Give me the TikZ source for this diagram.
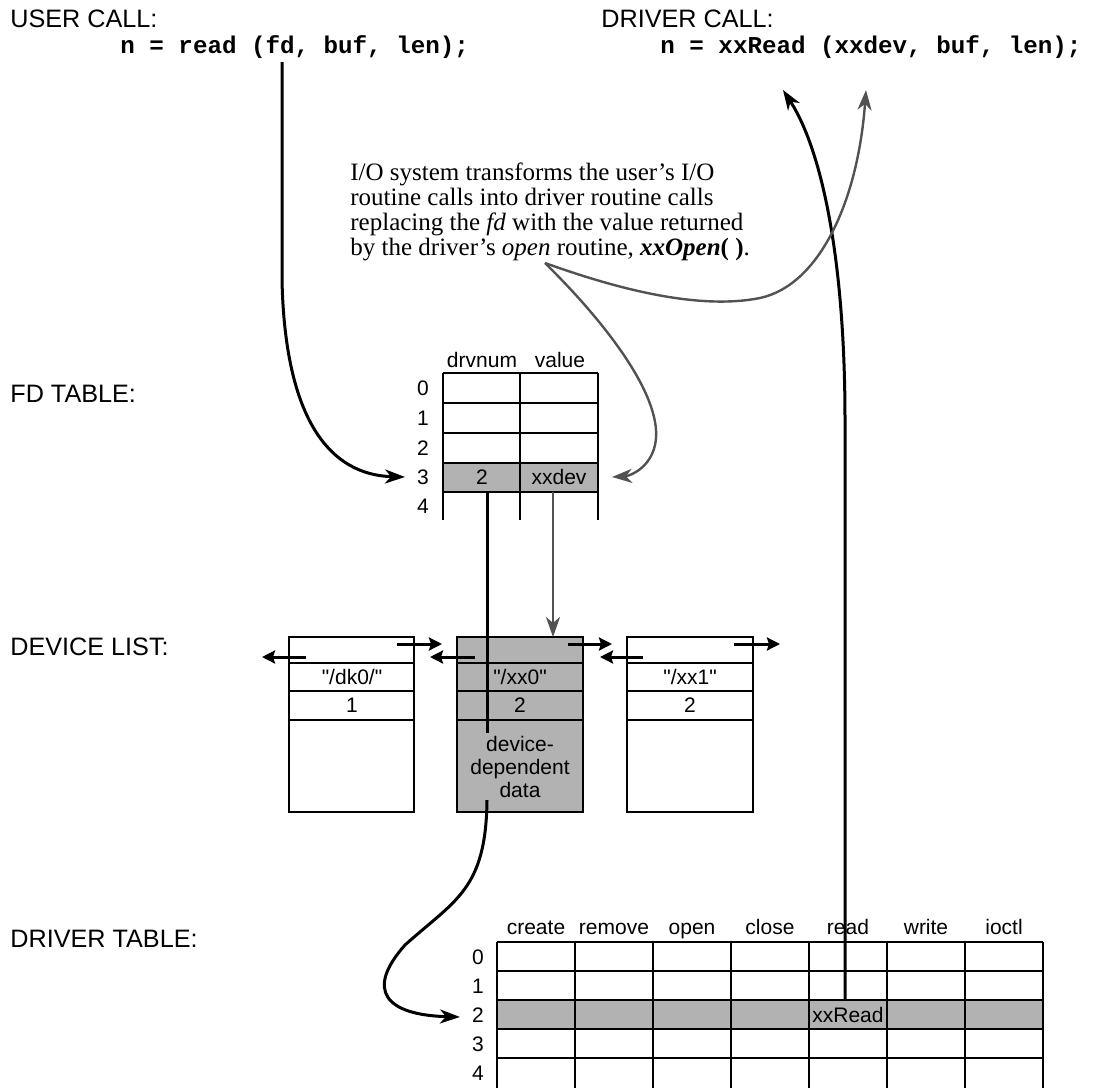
\documentclass[tikz,border=0pt]{standalone}
\usepackage{fontspec}
\newfontfamily\sansfont{Liberation Sans}
\newfontfamily\codefont{Liberation Mono}
\newfontfamily\notefont{Liberation Serif}
\usetikzlibrary{arrows.meta}
\begin{document}
\begin{tikzpicture}[x=0.5pt,y=-0.5pt,
  lbl/.style={anchor=base west, inner sep=0, font=\sansfont\fontsize{12.6}{15}\selectfont},
  codetxt/.style={anchor=base west, inner sep=0, font=\codefont\bfseries\fontsize{12.1}{14}\selectfont},
  notetxt/.style={anchor=base west, inner sep=0, font=\notefont\fontsize{12.5}{14}\selectfont},
  celltxt/.style={inner sep=0, font=\sansfont\fontsize{10.5}{11.5}\selectfont},
  headtxt/.style={celltxt, anchor=base},
  gridline/.style={line width=0.85pt},
  shaded/.style={fill=black!30},
  blk/.style={line width=1.5pt, -{Stealth[length=10pt,width=7pt,inset=3pt]}},
  gry/.style={draw=black!68, line width=1.2pt, -{Stealth[length=10pt,width=7pt,inset=3pt]}},
  ptr/.style={line width=1.5pt, -{Stealth[length=6.5pt,width=6.5pt,inset=1pt]}},
]
\useasboundingbox (0,0) rectangle (1098,1088);

% ---- labels ----
\node[lbl] (userlbl) at (10,27) {USER CALL:};
\node[lbl] (drvlbl) at (601,27) {DRIVER CALL:};
\node[lbl] (fdlbl) at (10,402) {FD TABLE:};
\node[lbl] (devlbl) at (10,655) {DEVICE LIST:};
\node[lbl] (dtlbl) at (10,947) {DRIVER TABLE:};

% ---- code ----
\node[codetxt] (ucode) at (120,53) {n = read (fd, buf, len);};
\node[codetxt] (dcode) at (660,53) {n = xxRead (xxdev, buf, len);};

% ---- annotation ----
\node[notetxt] (note1) at (350,180) {I/O system transforms the user’s I/O};
\node[notetxt] (note2) at (350,205) {routine calls into driver routine calls};
\node[notetxt] (note3) at (350,230) {replacing the \textit{fd} with the value returned};
\node[notetxt] (note4) at (350,255) {by the driver’s \textit{open} routine, \textbf{\textit{xxOpen}( )}.};

% ---- FD table ----
\fill[shaded] (443,463) rectangle (598,492);
\foreach \y in {373,403,433,463,492} \draw[gridline] (443,\y) -- (598,\y);
\foreach \x in {443,520,598} \draw[gridline] (\x,373) -- (\x,520);
\node[headtxt] (fdh1) at (482,367) {drvnum};
\node[headtxt] (fdh2) at (560,367) {value};
\foreach \i/\y in {0/388,1/418,2/448,3/477,4/506} \node[celltxt] (fdr\i) at (423,\y) {\i};
\node[celltxt] (fdnum) at (482,477) {2};
\node[celltxt] (fdval) at (559,477) {xxdev};

% ---- device list ----
\draw[gridline] (289,637) rectangle (414,812);
\filldraw[gridline, shaded] (457,637) rectangle (583,812);
\draw[gridline] (627,637) rectangle (753,812);
\foreach \l/\r in {289/414,457/583,627/753}
  \foreach \y in {663,691,720} \draw[gridline] (\l,\y) -- (\r,\y);
\node[celltxt] (dkname) at (352,677) {"/dk0/"};
\node[celltxt] (dknum) at (352,705.5) {1};
\node[celltxt] (xx0name) at (520,677) {"/xx0"};
\node[celltxt] (xx0num) at (520,705.5) {2};
\node[celltxt, align=center] (xx0data) at (520,767) {device-\\dependent\\data};
\node[celltxt] (xx1name) at (690,677) {"/xx1"};
\node[celltxt] (xx1num) at (690,705.5) {2};

% pointer arrows
\coordinate (dkL) at (306,657);  \coordinate (dkLt) at (262,657);
\coordinate (dkR) at (397,644);  \coordinate (dkRt) at (442,644);
\coordinate (x0L) at (475,657);  \coordinate (x0Lt) at (430,657);
\coordinate (x0R) at (568,644);  \coordinate (x0Rt) at (612,644);
\coordinate (x1L) at (643,657);  \coordinate (x1Lt) at (600,657);
\coordinate (x1R) at (734,644);  \coordinate (x1Rt) at (780,644);
\foreach \a/\b in {dkL/dkLt,dkR/dkRt,x0L/x0Lt,x0R/x0Rt,x1L/x1Lt,x1R/x1Rt}
  \draw[ptr] (\a) -- (\b);

% ---- driver table ----
\fill[shaded] (497,1000) rectangle (1043,1029);
\foreach \y in {942,971,1000,1029,1058} \draw[gridline] (497,\y) -- (1043,\y);
\foreach \x in {497,575,...,1043} \draw[gridline] (\x,942) -- (\x,1088);
\foreach \n [count=\i from 0] in {create,remove,open,close,read,write,ioctl}
  \node[headtxt] (dth\i) at ({536+78*\i},934) {\n};
\foreach \i in {0,...,4} \node[celltxt] (dtr\i) at (478,{957+29*\i}) {\i};
\node[celltxt] (xxread) at (848,1015) {xxRead};

% ---- connectors ----
\coordinate (ufd) at (282,62);
\coordinate (fdin) at (405,477);
\draw[blk] (ufd) -- (282,280) .. controls (285,420) and (330,475) .. (fdin);

\coordinate (fdnumbot) at (487,492);
\coordinate (ddtop) at (487,733);
\draw[line width=1.5pt] (fdnumbot) -- (ddtop);

\coordinate (fdvalbot) at (553,492);
\coordinate (x0top) at (553,637);
\draw[gry] (fdvalbot) -- (x0top);

\coordinate (ddbot) at (487,800);
\coordinate (dtin) at (460,1017);
\draw[blk] (ddbot) .. controls (486,890) and (455,900) .. (405,945)
  .. controls (365,990) and (385,1015) .. (dtin);

\coordinate (rdcell) at (845,1000);
\coordinate (rdtip) at (783,90);
\draw[blk] (rdcell) -- (845,420) .. controls (845,260) and (822,150) .. (rdtip);

\coordinate (openpt) at (545,263);
\coordinate (devtip) at (612,477);
\coordinate (xxdevtip) at (866,90);
\draw[gry] (openpt) .. controls (608,325) and (665,400) .. (655,445)
  .. controls (650,468) and (630,476) .. (devtip);
\draw[gry] (openpt) .. controls (620,290) and (700,310) .. (760,298)
  .. controls (820,285) and (858,200) .. (xxdevtip);
\end{tikzpicture}
\end{document}
